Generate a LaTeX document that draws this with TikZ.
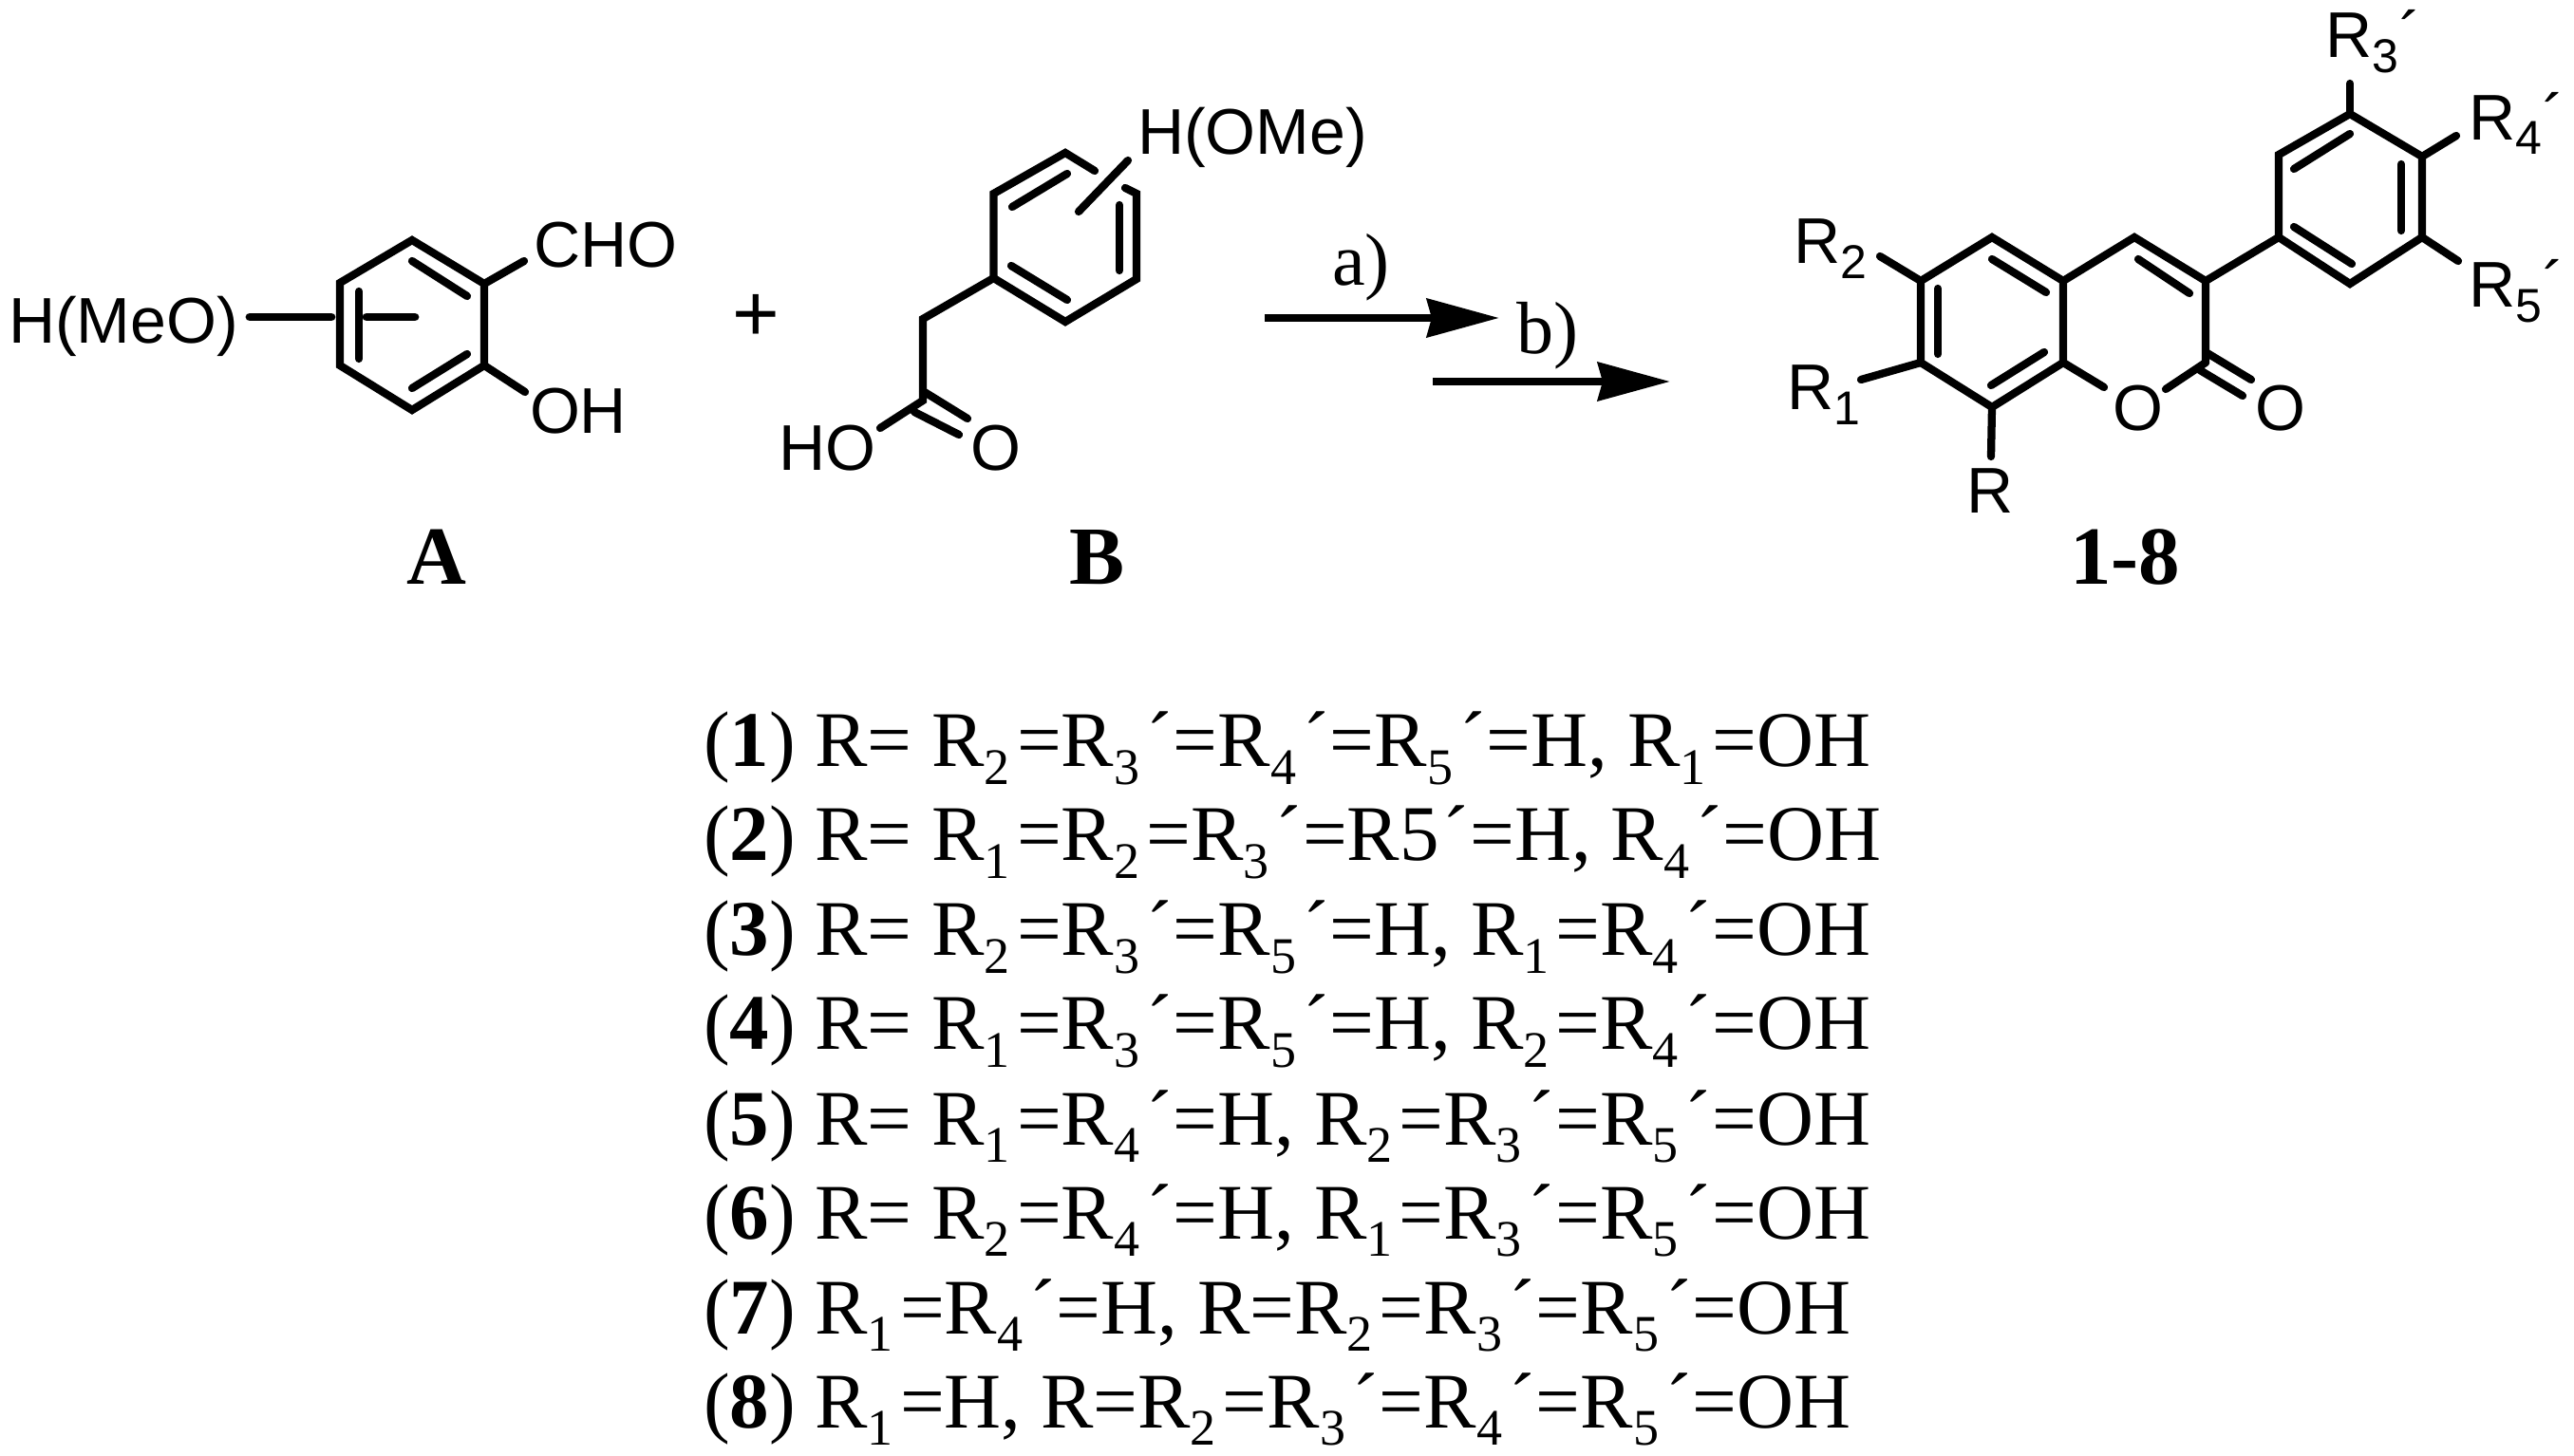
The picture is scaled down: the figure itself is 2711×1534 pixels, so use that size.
\documentclass[tikz,border=0pt]{standalone}
\usepackage{fontspec}
\usetikzlibrary{arrows.meta}
\setmainfont{Liberation Serif}
\newfontfamily\chemf{Liberation Sans}
\newdimen\pxu \pxu=0.28453pt
\newcommand{\cf}{\chemf\fontsize{68\pxu}{72\pxu}\selectfont}
\newcommand{\pf}{\chemf\fontsize{68\pxu}{72\pxu}\selectfont}
\newcommand{\lf}{\fontsize{83\pxu}{90\pxu}\selectfont}
\newcommand{\bfl}{\bfseries\fontsize{87\pxu}{90\pxu}\selectfont}
% product-label subscript and prime
\newcommand{\psb}[1]{\raisebox{-15\pxu}{\chemf\fontsize{50\pxu}{52\pxu}\selectfont #1}}
\newcommand{\ppr}{\hspace{2\pxu}´}
% list-label subscript and prime
\newcommand{\lsb}[1]{\raisebox{-18\pxu}{\fontsize{54\pxu}{56\pxu}\selectfont #1}\hspace{7\pxu}}
\newcommand{\lpr}{´\hspace{1\pxu}}
\newcommand{\Rs}[1]{R\lsb{#1}}
\newcommand{\Rp}[1]{R\lsb{#1}\lpr}
\newcommand{\num}[1]{(\textbf{#1})}
\begin{document}
\begin{tikzpicture}[x=0.01cm,y=-0.01cm,
  bond/.style={line width=2.35pt,line cap=round,line join=miter},
  ring/.style={line width=2.35pt,line join=miter,line cap=round},
  subst/.style={line width=2.5pt,line cap=round},
  rxn/.style={line width=2.4pt,-{Stealth[length=21.6pt,width=11.4pt,inset=1.4pt]}},
  chem/.style={inner sep=0pt,outer sep=0pt,anchor=base west,font=\cf},
  prod/.style={inner sep=0pt,outer sep=0pt,anchor=base west,font=\pf},
  lab/.style={inner sep=0pt,outer sep=0pt,anchor=base,font=\bfl},
  row/.style={inner sep=0pt,outer sep=0pt,anchor=base west,font=\lf},
  cond/.style={inner sep=0pt,outer sep=0pt,anchor=base west,font=\fontsize{78\pxu}{84\pxu}\selectfont}]
\useasboundingbox (0,0) rectangle (2711,1534);
% ---- A ----
\coordinate (a1) at (434,253); \coordinate (a2) at (510,299); \coordinate (a3) at (510,385);
\coordinate (a4) at (434,432); \coordinate (a5) at (358,385); \coordinate (a6) at (358,298);
\draw[ring] (a1)--(a2)--(a3)--(a4)--(a5)--(a6)--cycle;
\coordinate (ai1) at (434,275); \coordinate (ai2) at (492,312);
\coordinate (ai3) at (434,409); \coordinate (ai4) at (492,373);
\coordinate (ai5) at (378,307); \coordinate (ai6) at (378,378);
\draw[bond] (ai1)--(ai2); \draw[bond] (ai3)--(ai4); \draw[bond] (ai5)--(ai6);
\coordinate (acho) at (552,275); \coordinate (aoh) at (553,413);
\draw[bond] (a2)--(acho); \draw[bond] (a3)--(aoh);
\coordinate (as1) at (263,334); \coordinate (as2) at (349,334);
\coordinate (as3) at (386,334); \coordinate (as4) at (437,334);
\draw[subst] (as1)--(as2); \draw[subst] (as3)--(as4);
\node[chem] (tcho) at (562,282) {CHO};
\node[chem] (taoh) at (558,457) {OH};
\node[chem] (tmeo) at (9,362) {H(MeO)};
\node[lab] (tA) at (460,616) {A};
\node[inner sep=0pt,anchor=base,font=\chemf\fontsize{85\pxu}{90\pxu}\selectfont] (plus) at (796,360) {+};
% ---- B ----
\coordinate (b1) at (1122,161); \coordinate (b2) at (1197,204); \coordinate (b3) at (1197,294);
\coordinate (b4) at (1122,339); \coordinate (b5) at (1046.5,293); \coordinate (b6) at (1046.5,204);
\coordinate (bg1) at (1153,180); \coordinate (bg2) at (1185,198);
\draw[ring] (bg1)--(b1)--(b6)--(b5)--(b4)--(b3)--(b2)--(bg2);
\coordinate (bi1) at (1066,218); \coordinate (bi2) at (1124,183);
\coordinate (bi3) at (1179,216); \coordinate (bi4) at (1179,285);
\coordinate (bi5) at (1065,280); \coordinate (bi6) at (1124,316);
\draw[bond] (bi1)--(bi2); \draw[bond] (bi3)--(bi4); \draw[bond] (bi5)--(bi6);
\coordinate (bs1) at (1188,169); \coordinate (bs2) at (1136,223);
\draw[bond] (bs1)--(bs2);
\coordinate (bc) at (972,336); \coordinate (bd) at (972,422); \coordinate (bho) at (927,451);
\draw[ring] (b5)--(bc)--(bd)--(bho);
\coordinate (bo1) at (972,412); \coordinate (bo2) at (1019,441);
\coordinate (bo3) at (963,434); \coordinate (bo4) at (1010,458);
\draw[bond] (bo1)--(bo2); \draw[bond] (bo3)--(bo4);
\node[chem] (tho) at (820,496) {HO};
\node[chem] (tbo) at (1022,496) {O};
\node[chem] (tome) at (1198,163) {H(OMe)};
\node[lab] (tB) at (1156,616) {B};
% ---- arrows ----
\coordinate (r1) at (1332,335); \coordinate (r2) at (1579,335);
\coordinate (r3) at (1509,402); \coordinate (r4) at (1759,402);
\draw[rxn] (r1)--(r2); \draw[rxn] (r3)--(r4);
\node[cond] (tca) at (1403,301) {a)};
\node[cond] (tcb) at (1597,373) {b)};
% ---- product ----
\coordinate (p1) at (2475,120); \coordinate (p2) at (2551,165); \coordinate (p3) at (2551,250);
\coordinate (p4) at (2475,299); \coordinate (p5) at (2400,250); \coordinate (p6) at (2400,163);
\draw[ring] (p1)--(p2)--(p3)--(p4)--(p5)--(p6)--cycle;
\coordinate (pi1) at (2416,178); \coordinate (pi2) at (2475,141);
\coordinate (pi3) at (2416,239); \coordinate (pi4) at (2477,278);
\coordinate (pi5) at (2529,173); \coordinate (pi6) at (2529,243);
\draw[bond] (pi1)--(pi2); \draw[bond] (pi3)--(pi4); \draw[bond] (pi5)--(pi6);
\coordinate (s3) at (2475,88); \coordinate (s4) at (2587,143); \coordinate (s5) at (2589,275);
\draw[bond] (p1)--(s3); \draw[bond] (p2)--(s4); \draw[bond] (p3)--(s5);
\coordinate (c3) at (2323,296); \coordinate (c4) at (2248,250); \coordinate (c4a) at (2173,296);
\coordinate (c5) at (2098,250); \coordinate (c6) at (2023,296); \coordinate (c7) at (2023,382);
\coordinate (c8) at (2098,429); \coordinate (c8a) at (2173,382); \coordinate (c2) at (2323,382);
\draw[bond] (p5)--(c3);
\draw[ring] (c2)--(c3)--(c4)--(c4a)--(c5)--(c6)--(c7)--(c8)--(c8a)--(c4a);
\coordinate (o1a) at (2216,408); \coordinate (o1b) at (2281,410);
\draw[bond] (c8a)--(o1a); \draw[bond] (c2)--(o1b);
\coordinate (co1) at (2323,371); \coordinate (co2) at (2371,400);
\coordinate (co3) at (2317,390); \coordinate (co4) at (2362,417);
\draw[bond] (co1)--(co2); \draw[bond] (co3)--(co4);
\coordinate (qi1) at (2252,273); \coordinate (qi2) at (2306,309);
\coordinate (qi3) at (2098,273); \coordinate (qi4) at (2155,308);
\coordinate (qi5) at (2041,304); \coordinate (qi6) at (2041,373);
\coordinate (qi7) at (2097,406); \coordinate (qi8) at (2153,371);
\draw[bond] (qi1)--(qi2); \draw[bond] (qi3)--(qi4); \draw[bond] (qi5)--(qi6); \draw[bond] (qi7)--(qi8);
\coordinate (sr2) at (1980,270); \coordinate (sr1) at (1960,400); \coordinate (sr) at (2097,481);
\draw[bond] (c6)--(sr2); \draw[bond] (c7)--(sr1); \draw[bond] (c8)--(sr);
\node[prod] (tr2) at (1889,278) {R\psb{2}};
\node[prod] (tr1) at (1882,432) {R\psb{1}};
\node[prod] (tr) at (2071,541) {R};
\node[prod] (tr3) at (2449,61) {R\psb{3}\ppr};
\node[prod] (tr4) at (2600,148) {R\psb{4}\ppr};
\node[prod] (tr5) at (2600,324) {R\psb{5}\ppr};
\node[prod] (to1) at (2225,454) {O};
\node[prod] (to2) at (2375,454) {O};
\node[lab] (t18) at (2238,616) {1-8};
% ---- list ----
\node[row] (l1) at (741,808)  {\num{1} R= \Rs{2}=\Rp{3}=\Rp{4}=\Rp{5}=H, \Rs{1}=OH};
\node[row] (l2) at (741,907)  {\num{2} R= \Rs{1}=\Rs{2}=\Rp{3}=R5\hspace{4\pxu}\lpr=H, \Rp{4}=OH};
\node[row] (l3) at (741,1007) {\num{3} R= \Rs{2}=\Rp{3}=\Rp{5}=H, \Rs{1}=\Rp{4}=OH};
\node[row] (l4) at (741,1106) {\num{4} R= \Rs{1}=\Rp{3}=\Rp{5}=H, \Rs{2}=\Rp{4}=OH};
\node[row] (l5) at (741,1206) {\num{5} R= \Rs{1}=\Rp{4}=H, \Rs{2}=\Rp{3}=\Rp{5}=OH};
\node[row] (l6) at (741,1305) {\num{6} R= \Rs{2}=\Rp{4}=H, \Rs{1}=\Rp{3}=\Rp{5}=OH};
\node[row] (l7) at (741,1405) {\num{7} \Rs{1}=\Rp{4}=H, R=\Rs{2}=\Rp{3}=\Rp{5}=OH};
\node[row] (l8) at (741,1504) {\num{8} \Rs{1}=H, R=\Rs{2}=\Rp{3}=\Rp{4}=\Rp{5}=OH};
\end{tikzpicture}
\end{document}
